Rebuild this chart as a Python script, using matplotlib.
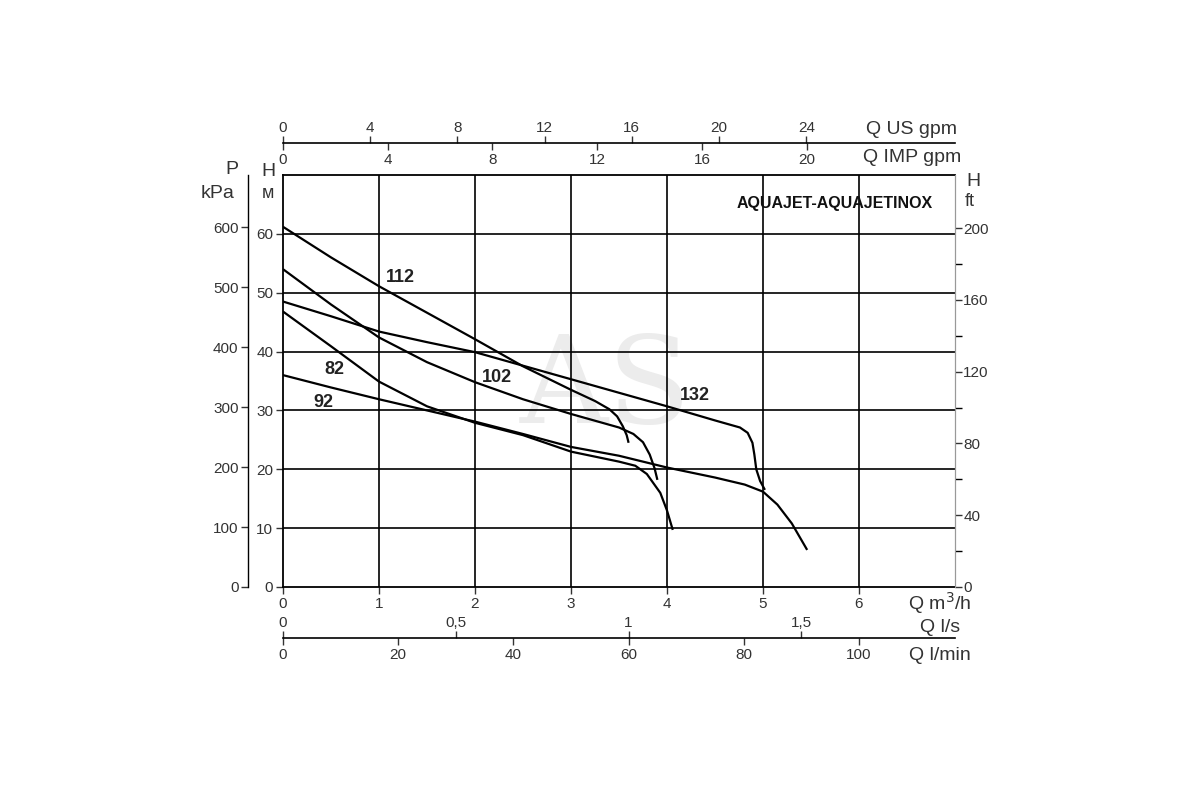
import numpy as np
import matplotlib
matplotlib.use('Agg')
import matplotlib.pyplot as plt
from matplotlib.ticker import FixedLocator, FixedFormatter

# Кривые напора H (м) от подачи Q (м3/ч)
q112 = [0, 0.5, 1, 1.5, 2, 2.5, 3, 3.25, 3.4, 3.48, 3.54, 3.58, 3.6]
h112 = [61.2, 56.0, 51.1, 46.6, 42.1, 37.5, 33.5, 31.6, 30.2, 29.0, 27.3, 25.8, 24.5]

q102 = [0, 0.5, 1, 1.5, 2, 2.5, 3, 3.5, 3.65, 3.75, 3.82, 3.87, 3.9]
h102 = [54.0, 48.0, 42.4, 38.2, 34.8, 31.9, 29.4, 27.1, 26.0, 24.6, 22.5, 20.2, 18.2]

q132 = [0, 0.5, 1, 1.5, 2, 2.5, 3, 3.5, 4, 4.5, 4.76, 4.84, 4.89, 4.91, 4.93, 4.97, 5.02]
h132 = [48.5, 46.0, 43.4, 41.6, 39.9, 37.6, 35.3, 33.0, 30.7, 28.3, 27.1, 26.2, 24.5, 22.5, 20.0, 18.0, 16.5]

q82 = [0, 0.5, 1, 1.5, 2, 2.5, 3, 3.5, 3.67, 3.79, 3.93, 4.0, 4.06]
h82 = [46.8, 40.9, 34.9, 30.7, 27.9, 25.8, 23.0, 21.3, 20.6, 19.2, 16.0, 13.0, 9.7]

q92 = [0, 0.5, 1, 1.5, 2, 2.5, 3, 3.5, 4, 4.5, 4.81, 5.0, 5.15, 5.3, 5.46]
h92 = [36.0, 33.9, 31.9, 30.0, 28.1, 26.0, 23.8, 22.3, 20.3, 18.6, 17.4, 16.2, 14.0, 10.8, 6.3]

curves = [(q112, h112, '112', 1.22, 52.6), (q102, h102, '102', 2.23, 35.6),
          (q132, h132, '132', 4.29, 32.5), (q82, h82, '82', 0.54, 37.0),
          (q92, h92, '92', 0.42, 31.4)]

# Шкалы
h_ticks = [0, 10, 20, 30, 40, 50, 60]
p_ticks = [0, 100, 200, 300, 400, 500, 600]
ft_major = [0, 40, 80, 120, 160, 200]
ft_minor = [20, 60, 100, 140, 180]
qm3_ticks = [0, 1, 2, 3, 4, 5, 6]
us_ticks = [0, 4, 8, 12, 16, 20, 24]
imp_ticks = [0, 4, 8, 12, 16, 20]
ls_ticks = [0, 0.5, 1, 1.5]
ls_labels = ['0', '0,5', '1', '1,5']
lmin_ticks = [0, 20, 40, 60, 80, 100]

QMAX, HMAX = 7, 70
TXT = '#333333'
plt.rcParams['font.family'] = ['Liberation Sans', 'DejaVu Sans']

fig = plt.figure(figsize=(12, 8), dpi=100)
L, R, B, T = 283 / 1200, 955 / 1200, 1 - 587 / 800, 1 - 175 / 800
ax = fig.add_axes([L, B, R - L, T - B])
ax.set_xlim(0, QMAX)
ax.set_ylim(0, HMAX)

# водяной знак
ax.text(3.36, 33.5, 'AS', fontsize=88, color='#ececec', family='DejaVu Serif',
        ha='center', va='center', zorder=0)

for x in qm3_ticks[1:]:
    ax.axvline(x, color='black', lw=1.2, zorder=1)
for y in h_ticks[1:]:
    ax.axhline(y, color='black', lw=1.2, zorder=1)

for q, h, name, tx, ty in curves:
    ax.plot(q, h, color='black', lw=1.6, zorder=3, solid_capstyle='butt')
    ax.text(tx, ty, name, fontsize=13, fontweight='bold', color='#222222',
            ha='center', va='center', zorder=4)

ax.text(5.75, 65.1, 'AQUAJET-AQUAJETINOX', fontsize=11.5, fontweight='bold',
        color='#111111', ha='center', va='center', zorder=4)

for s in ['top', 'bottom', 'left']:
    ax.spines[s].set_linewidth(1.3)
ax.spines['right'].set_color('#999999')
ax.set_xticks(qm3_ticks)
ax.set_yticks(h_ticks)
ax.tick_params(axis='both', length=5, width=1, labelsize=11, colors=TXT, pad=2)

# ось P, кПа
axp = ax.twinx()
axp.set_ylim(0, HMAX * 9.81)
axp.yaxis.tick_left()
axp.yaxis.set_label_position('left')
for s in ['top', 'bottom', 'right']:
    axp.spines[s].set_visible(False)
axp.spines['left'].set_position(('outward', 25))
axp.spines['left'].set_linewidth(1.0)
axp.set_yticks(p_ticks)
axp.tick_params(axis='y', length=5, width=1, labelsize=11, colors=TXT, pad=2)

# ось H, футы
axf = ax.twinx()
axf.set_ylim(0, HMAX / 0.3048)
for s in ['top', 'bottom', 'left']:
    axf.spines[s].set_visible(False)
axf.spines['right'].set_color('#999999')
axf.yaxis.set_major_locator(FixedLocator(ft_major))
axf.yaxis.set_minor_locator(FixedLocator(ft_minor))
axf.tick_params(axis='y', which='major', length=5, width=1, labelsize=11, colors=TXT, pad=1)
axf.tick_params(axis='y', which='minor', length=5, width=1)

# подписи осей
fig.text(232 / 1200, 1 - 170 / 800, 'P', fontsize=14, color=TXT, ha='center', va='center')
fig.text(218 / 1200, 1 - 194 / 800, 'kPa', fontsize=14, color=TXT, ha='center', va='center')
fig.text(268 / 1200, 1 - 172 / 800, 'H', fontsize=14, color=TXT, ha='center', va='center')
fig.text(268 / 1200, 1 - 194 / 800, 'м', fontsize=13, color=TXT, ha='center', va='center')
fig.text(973 / 1200, 1 - 182 / 800, 'H', fontsize=14, color=TXT, ha='center', va='center')
fig.text(970 / 1200, 1 - 201 / 800, 'ft', fontsize=13, color=TXT, ha='center', va='center')


def scale_axis(y_px, xmax, ticks_top, ticks_bot, labels_top=None, labels_bot=None):
    """Дополнительная шкала расхода: линия с делениями сверху и снизу."""
    yf = 1 - y_px / 800
    a_top = fig.add_axes([L, yf, R - L, 0.0001])
    a_bot = fig.add_axes([L, yf, R - L, 0.0001])
    for a, xm in [(a_top, xmax[0]), (a_bot, xmax[1])]:
        a.set_xlim(0, xm)
        a.set_yticks([])
        a.patch.set_alpha(0)
        for s in ['top', 'left', 'right']:
            a.spines[s].set_visible(False)
    a_top.spines['bottom'].set_visible(False)
    a_bot.spines['bottom'].set_linewidth(1.2)
    a_top.xaxis.tick_top()
    a_top.xaxis.set_major_locator(FixedLocator(ticks_top))
    if labels_top:
        a_top.xaxis.set_major_formatter(FixedFormatter(labels_top))
    a_bot.xaxis.set_major_locator(FixedLocator(ticks_bot))
    if labels_bot:
        a_bot.xaxis.set_major_formatter(FixedFormatter(labels_bot))
    a_top.tick_params(axis='x', length=5, width=1, labelsize=11, colors=TXT, pad=1)
    a_bot.tick_params(axis='x', length=5, width=1, labelsize=11, colors=TXT, pad=2)


scale_axis(143, (QMAX * 4.4029, QMAX * 3.6662), us_ticks, imp_ticks)
scale_axis(638, (QMAX / 3.6, QMAX / 0.06), ls_ticks, lmin_ticks, labels_top=ls_labels)

fig.text(912 / 1200, 1 - 129 / 800, 'Q US gpm', fontsize=14, color=TXT, ha='center', va='center')
fig.text(912 / 1200, 1 - 157 / 800, 'Q IMP gpm', fontsize=14, color=TXT, ha='center', va='center')
fig.text(940 / 1200, 1 - 603 / 800, 'Q m$^3$/h', fontsize=14, color=TXT, ha='center', va='center')
fig.text(940 / 1200, 1 - 627 / 800, 'Q l/s', fontsize=14, color=TXT, ha='center', va='center')
fig.text(940 / 1200, 1 - 655 / 800, 'Q l/min', fontsize=14, color=TXT, ha='center', va='center')

fig.savefig('out.png', dpi=100, facecolor='white')
